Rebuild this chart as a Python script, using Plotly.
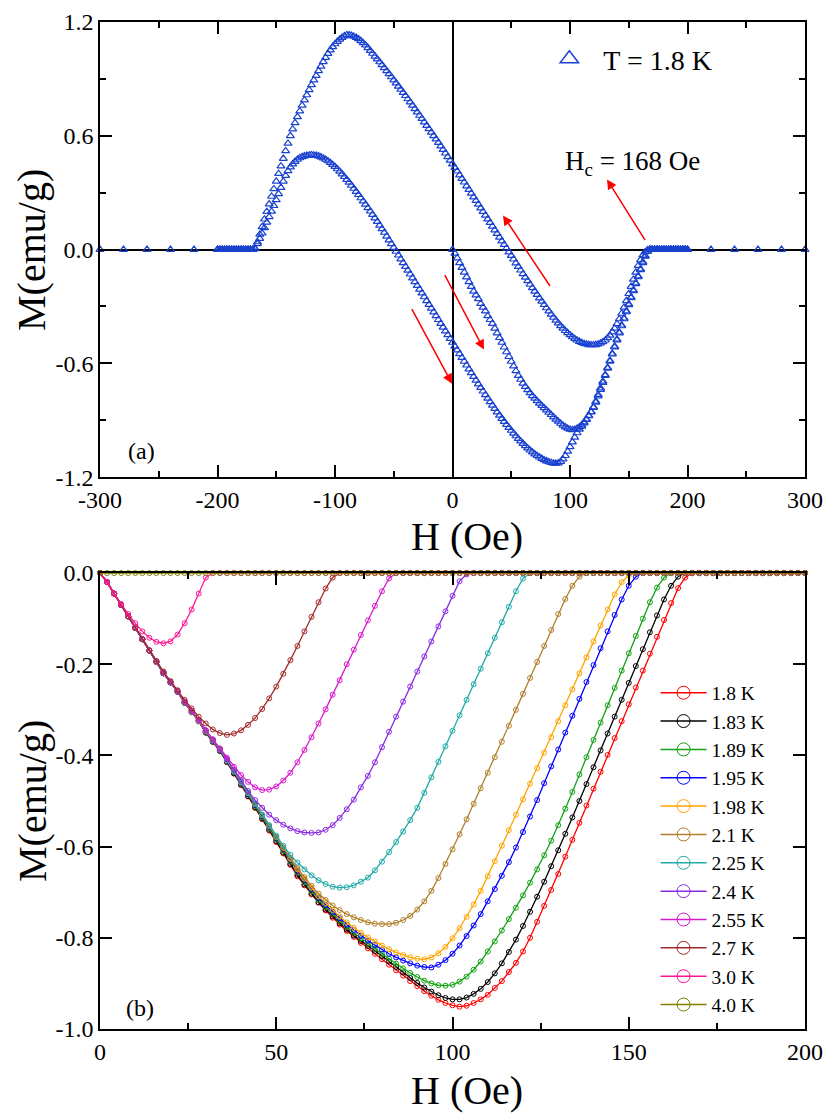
import plotly.graph_objects as go

# ---- panel (a): hysteresis loop at T = 1.8 K ----
H_top = [
    -200, -198, -196, -194, -192, -190, -188, -186, -184, -182, -180, -178, -176, -174, -172, -170, -168, -166, -164, -162,
    -160, -158, -156, -154, -152, -150, -148, -146, -144, -142, -140, -138, -136, -134, -132, -130, -128, -126, -124, -122,
    -120, -118, -116, -114, -112, -110, -108, -106, -104, -102, -100, -98, -96, -94, -92, -90, -88, -86, -84, -82,
    -80, -78, -76, -74, -72, -70, -68, -66, -64, -62, -60, -58, -56, -54, -52, -50, -48, -46, -44, -42,
    -40, -38, -36, -34, -32, -30, -28, -26, -24, -22, -20, -18, -16, -14, -12, -10, -8, -6, -4, -2,
    0, 2, 4, 6, 8, 10, 12, 14, 16, 18, 20, 22, 24, 26, 28, 30, 32, 34, 36, 38,
    40, 42, 44, 46, 48, 50, 52, 54, 56, 58, 60, 62, 64, 66, 68, 70, 72, 74, 76, 78,
    80, 82, 84, 86, 88, 90, 92, 94, 96, 98, 100, 102, 104, 106, 108, 110, 112, 114, 116, 118,
    120, 122, 124, 126, 128, 130, 132, 134, 136, 138, 140, 142, 144, 146, 148, 150, 152, 154, 156, 158,
    160, 162, 164, 166, 168, 170, 172, 174, 176, 178, 180, 182, 184, 186, 188, 190, 192, 194, 196, 198,
    200]

# branch swept from +H down to -H
M_desc = [
    0, 0, 0, 0, 0, 0, 0, 0, 0, 0,
    0, 0, 0, 0, 0, 0, 0.005, 0.04, 0.08, 0.12,
    0.16, 0.2, 0.24, 0.28, 0.32, 0.36, 0.4, 0.44, 0.48, 0.52,
    0.56, 0.6, 0.635, 0.668, 0.7, 0.73, 0.76, 0.788, 0.815, 0.842,
    0.868, 0.893, 0.917, 0.942, 0.966, 0.99, 1.012, 1.033, 1.052, 1.069,
    1.084, 1.097, 1.108, 1.118, 1.126, 1.132, 1.131, 1.129, 1.124, 1.118,
    1.111, 1.101, 1.09, 1.078, 1.064, 1.049, 1.034, 1.019, 1.004, 0.989,
    0.974, 0.958, 0.942, 0.926, 0.91, 0.894, 0.878, 0.861, 0.844, 0.828,
    0.811, 0.794, 0.777, 0.76, 0.742, 0.725, 0.707, 0.69, 0.672, 0.654,
    0.636, 0.618, 0.6, 0.582, 0.564, 0.545, 0.527, 0.508, 0.489, 0.47,
    0.451, 0.432, 0.413, 0.393, 0.374, 0.355, 0.335, 0.316, 0.296, 0.277,
    0.258, 0.238, 0.219, 0.2, 0.18, 0.161, 0.142, 0.122, 0.103, 0.084,
    0.064, 0.045, 0.026, 0.007, -0.013, -0.032, -0.051, -0.071, -0.09, -0.109,
    -0.128, -0.147, -0.165, -0.184, -0.202, -0.22, -0.238, -0.256, -0.273, -0.291,
    -0.308, -0.325, -0.342, -0.358, -0.373, -0.388, -0.402, -0.415, -0.428, -0.439,
    -0.45, -0.461, -0.47, -0.478, -0.485, -0.491, -0.496, -0.499, -0.502, -0.503,
    -0.503, -0.502, -0.499, -0.494, -0.487, -0.478, -0.466, -0.452, -0.435, -0.415,
    -0.392, -0.366, -0.337, -0.305, -0.27, -0.233, -0.195, -0.157, -0.12, -0.085,
    -0.055, -0.03, -0.012, -0.002, 0, 0, 0, 0, 0, 0,
    0, 0, 0, 0, 0, 0, 0, 0, 0, 0,
    0]

# branch swept from -H up to +H
M_asc = [
    0, 0, 0, 0, 0, 0, 0, 0, 0, 0,
    0, 0, 0, 0, 0, 0, 0.003, 0.03, 0.058, 0.086,
    0.114, 0.143, 0.172, 0.201, 0.231, 0.262, 0.294, 0.327, 0.36, 0.39,
    0.415, 0.435, 0.451, 0.464, 0.475, 0.483, 0.489, 0.493, 0.496, 0.498,
    0.499, 0.498, 0.496, 0.493, 0.488, 0.482, 0.475, 0.467, 0.458, 0.448,
    0.437, 0.425, 0.412, 0.398, 0.384, 0.369, 0.354, 0.338, 0.322, 0.306,
    0.289, 0.272, 0.255, 0.238, 0.22, 0.202, 0.184, 0.166, 0.147, 0.128,
    0.109, 0.09, 0.07, 0.05, 0.03, 0.01, -0.01, -0.03, -0.05, -0.07,
    -0.09, -0.11, -0.13, -0.15, -0.17, -0.19, -0.21, -0.23, -0.25, -0.27,
    -0.29, -0.31, -0.33, -0.35, -0.37, -0.39, -0.41, -0.43, -0.45, -0.47,
    -0.49, -0.51, -0.53, -0.55, -0.57, -0.59, -0.61, -0.63, -0.65, -0.67,
    -0.69, -0.709, -0.728, -0.747, -0.766, -0.785, -0.803, -0.821, -0.839, -0.857,
    -0.874, -0.891, -0.907, -0.923, -0.939, -0.954, -0.969, -0.983, -0.997, -1.01,
    -1.023, -1.035, -1.047, -1.058, -1.068, -1.078, -1.087, -1.095, -1.102, -1.109,
    -1.115, -1.12, -1.124, -1.127, -1.128, -1.126, -1.118, -1.105, -1.087, -1.064,
    -1.04, -1.015, -0.99, -0.967, -0.948, -0.932, -0.915, -0.897, -0.877, -0.857,
    -0.834, -0.806, -0.773, -0.738, -0.702, -0.665, -0.627, -0.59, -0.552, -0.514,
    -0.477, -0.44, -0.403, -0.366, -0.329, -0.292, -0.255, -0.218, -0.181, -0.144,
    -0.107, -0.07, -0.036, -0.01, 0, 0, 0, 0, 0, 0,
    0, 0, 0, 0, 0, 0, 0, 0, 0, 0,
    0]

# coarse points outside +-200 Oe
H_out = [-300, -280, -260, -240, -220, 220, 240, 260, 280, 300]
M_out = [0, 0, 0, 0, 0, 0, 0, 0, 0, 0]

# ---- panel (b): virgin curves at several temperatures ----
H_b = [
    0, 2, 4, 6, 8, 10, 12, 14, 16, 18, 20, 22, 24, 26, 28, 30, 32, 34, 36, 38,
    40, 42, 44, 46, 48, 50, 52, 54, 56, 58, 60, 62, 64, 66, 68, 70, 72, 74, 76, 78,
    80, 82, 84, 86, 88, 90, 92, 94, 96, 98, 100, 102, 104, 106, 108, 110, 112, 114, 116, 118,
    120, 122, 124, 126, 128, 130, 132, 134, 136, 138, 140, 142, 144, 146, 148, 150, 152, 154, 156, 158,
    160, 162, 164, 166, 168, 170, 172, 174, 176, 178, 180, 182, 184, 186, 188, 190, 192, 194, 196, 198,
    200]

M_180 = [
    0, -0.02, -0.045, -0.07, -0.095, -0.12, -0.145, -0.17, -0.195, -0.22,
    -0.24, -0.26, -0.285, -0.305, -0.325, -0.35, -0.37, -0.39, -0.415, -0.44,
    -0.465, -0.49, -0.515, -0.54, -0.565, -0.59, -0.615, -0.64, -0.665, -0.685,
    -0.705, -0.723, -0.74, -0.756, -0.771, -0.785, -0.798, -0.811, -0.823, -0.835,
    -0.847, -0.859, -0.871, -0.883, -0.895, -0.906, -0.917, -0.927, -0.936, -0.943,
    -0.948, -0.951, -0.949, -0.943, -0.935, -0.925, -0.91, -0.895, -0.875, -0.855,
    -0.83, -0.8, -0.765, -0.73, -0.695, -0.66, -0.622, -0.585, -0.548, -0.51,
    -0.473, -0.436, -0.399, -0.362, -0.325, -0.288, -0.251, -0.214, -0.177, -0.14,
    -0.103, -0.066, -0.033, -0.01, 0, 0, 0, 0, 0, 0,
    0, 0, 0, 0, 0, 0, 0, 0, 0, 0,
    0]
M_183 = [
    0, -0.02, -0.045, -0.07, -0.095, -0.12, -0.145, -0.17, -0.195, -0.22,
    -0.24, -0.26, -0.285, -0.305, -0.325, -0.35, -0.37, -0.39, -0.414, -0.439,
    -0.464, -0.489, -0.514, -0.538, -0.563, -0.588, -0.613, -0.638, -0.662, -0.683,
    -0.703, -0.722, -0.738, -0.753, -0.768, -0.782, -0.795, -0.807, -0.818, -0.829,
    -0.84, -0.852, -0.864, -0.876, -0.888, -0.899, -0.909, -0.918, -0.926, -0.932,
    -0.935, -0.935, -0.931, -0.923, -0.912, -0.897, -0.878, -0.856, -0.831, -0.804,
    -0.774, -0.743, -0.71, -0.677, -0.643, -0.608, -0.572, -0.536, -0.5, -0.463,
    -0.426, -0.389, -0.352, -0.315, -0.278, -0.241, -0.204, -0.167, -0.13, -0.093,
    -0.058, -0.028, -0.008, 0, 0, 0, 0, 0, 0, 0,
    0, 0, 0, 0, 0, 0, 0, 0, 0, 0,
    0]
M_189 = [
    0, -0.02, -0.045, -0.07, -0.095, -0.12, -0.145, -0.17, -0.195, -0.22,
    -0.24, -0.26, -0.285, -0.305, -0.325, -0.349, -0.369, -0.389, -0.413, -0.437,
    -0.461, -0.486, -0.511, -0.535, -0.56, -0.584, -0.608, -0.632, -0.656, -0.677,
    -0.697, -0.716, -0.732, -0.747, -0.762, -0.776, -0.789, -0.801, -0.813, -0.824,
    -0.835, -0.846, -0.857, -0.867, -0.877, -0.886, -0.894, -0.9, -0.904, -0.905,
    -0.903, -0.896, -0.885, -0.87, -0.852, -0.83, -0.808, -0.784, -0.759, -0.734,
    -0.707, -0.679, -0.65, -0.619, -0.587, -0.553, -0.517, -0.48, -0.442, -0.404,
    -0.366, -0.328, -0.29, -0.252, -0.214, -0.176, -0.138, -0.1, -0.064, -0.032,
    -0.01, 0, 0, 0, 0, 0, 0, 0, 0, 0,
    0, 0, 0, 0, 0, 0, 0, 0, 0, 0,
    0]
M_195 = [
    0, -0.02, -0.045, -0.07, -0.095, -0.12, -0.145, -0.17, -0.195, -0.22,
    -0.24, -0.26, -0.284, -0.304, -0.324, -0.348, -0.368, -0.388, -0.412, -0.436,
    -0.46, -0.485, -0.509, -0.533, -0.557, -0.581, -0.605, -0.629, -0.652, -0.673,
    -0.693, -0.712, -0.728, -0.743, -0.757, -0.771, -0.783, -0.795, -0.806, -0.816,
    -0.826, -0.835, -0.843, -0.85, -0.856, -0.861, -0.864, -0.865, -0.859, -0.849,
    -0.835, -0.817, -0.796, -0.773, -0.748, -0.72, -0.693, -0.664, -0.634, -0.602,
    -0.568, -0.534, -0.498, -0.461, -0.424, -0.387, -0.35, -0.313, -0.276, -0.239,
    -0.202, -0.165, -0.128, -0.092, -0.058, -0.028, -0.008, 0, 0, 0,
    0, 0, 0, 0, 0, 0, 0, 0, 0, 0,
    0, 0, 0, 0, 0, 0, 0, 0, 0, 0,
    0]
M_198 = [
    0, -0.02, -0.045, -0.07, -0.095, -0.12, -0.145, -0.17, -0.195, -0.219,
    -0.239, -0.259, -0.284, -0.304, -0.324, -0.347, -0.367, -0.387, -0.411, -0.435,
    -0.459, -0.483, -0.507, -0.531, -0.555, -0.579, -0.603, -0.627, -0.65, -0.67,
    -0.69, -0.709, -0.724, -0.739, -0.753, -0.766, -0.778, -0.789, -0.799, -0.808,
    -0.817, -0.825, -0.832, -0.838, -0.843, -0.846, -0.847, -0.843, -0.834, -0.82,
    -0.801, -0.779, -0.754, -0.727, -0.697, -0.665, -0.632, -0.598, -0.564, -0.53,
    -0.496, -0.462, -0.428, -0.394, -0.36, -0.325, -0.29, -0.255, -0.22, -0.185,
    -0.15, -0.115, -0.08, -0.047, -0.02, -0.005, 0, 0, 0, 0,
    0, 0, 0, 0, 0, 0, 0, 0, 0, 0,
    0, 0, 0, 0, 0, 0, 0, 0, 0, 0,
    0]
M_210 = [
    0, -0.02, -0.045, -0.07, -0.095, -0.12, -0.145, -0.17, -0.194, -0.218,
    -0.239, -0.259, -0.283, -0.303, -0.323, -0.346, -0.366, -0.386, -0.41, -0.434,
    -0.458, -0.482, -0.507, -0.531, -0.555, -0.579, -0.602, -0.625, -0.647, -0.667,
    -0.686, -0.703, -0.717, -0.729, -0.739, -0.748, -0.755, -0.761, -0.766, -0.769,
    -0.77, -0.77, -0.767, -0.761, -0.752, -0.738, -0.72, -0.697, -0.669, -0.638,
    -0.606, -0.573, -0.54, -0.506, -0.472, -0.438, -0.404, -0.37, -0.335, -0.3,
    -0.265, -0.23, -0.195, -0.16, -0.125, -0.09, -0.057, -0.028, -0.008, 0,
    0, 0, 0, 0, 0, 0, 0, 0, 0, 0,
    0, 0, 0, 0, 0, 0, 0, 0, 0, 0,
    0, 0, 0, 0, 0, 0, 0, 0, 0, 0,
    0]
M_225 = [
    0, -0.02, -0.045, -0.07, -0.095, -0.12, -0.145, -0.17, -0.194, -0.218,
    -0.239, -0.259, -0.283, -0.303, -0.323, -0.346, -0.366, -0.386, -0.41, -0.434,
    -0.458, -0.482, -0.506, -0.53, -0.553, -0.576, -0.598, -0.618, -0.635, -0.65,
    -0.663, -0.674, -0.682, -0.688, -0.69, -0.689, -0.685, -0.677, -0.668, -0.652,
    -0.633, -0.612, -0.59, -0.567, -0.542, -0.515, -0.482, -0.448, -0.414, -0.38,
    -0.346, -0.312, -0.278, -0.244, -0.21, -0.176, -0.142, -0.108, -0.074, -0.04,
    -0.012, 0, 0, 0, 0, 0, 0, 0, 0, 0,
    0, 0, 0, 0, 0, 0, 0, 0, 0, 0,
    0, 0, 0, 0, 0, 0, 0, 0, 0, 0,
    0, 0, 0, 0, 0, 0, 0, 0, 0, 0,
    0]
M_240 = [
    0, -0.02, -0.045, -0.07, -0.095, -0.12, -0.145, -0.17, -0.194, -0.218,
    -0.239, -0.259, -0.282, -0.302, -0.322, -0.345, -0.365, -0.385, -0.408, -0.431,
    -0.455, -0.478, -0.498, -0.515, -0.53, -0.542, -0.552, -0.56, -0.566, -0.569,
    -0.57, -0.569, -0.563, -0.553, -0.537, -0.518, -0.497, -0.47, -0.445, -0.415,
    -0.382, -0.348, -0.315, -0.282, -0.249, -0.216, -0.183, -0.15, -0.117, -0.084,
    -0.05, -0.018, -0.003, 0, 0, 0, 0, 0, 0, 0,
    0, 0, 0, 0, 0, 0, 0, 0, 0, 0,
    0, 0, 0, 0, 0, 0, 0, 0, 0, 0,
    0, 0, 0, 0, 0, 0, 0, 0, 0, 0,
    0, 0, 0, 0, 0, 0, 0, 0, 0, 0,
    0]
M_255 = [
    0, -0.02, -0.045, -0.07, -0.095, -0.12, -0.145, -0.17, -0.194, -0.218,
    -0.239, -0.259, -0.282, -0.302, -0.322, -0.345, -0.365, -0.385, -0.405, -0.425,
    -0.443, -0.458, -0.47, -0.476, -0.475, -0.468, -0.455, -0.438, -0.415, -0.388,
    -0.36, -0.33, -0.299, -0.267, -0.235, -0.2, -0.168, -0.136, -0.104, -0.072,
    -0.04, -0.012, 0, 0, 0, 0, 0, 0, 0, 0,
    0, 0, 0, 0, 0, 0, 0, 0, 0, 0,
    0, 0, 0, 0, 0, 0, 0, 0, 0, 0,
    0, 0, 0, 0, 0, 0, 0, 0, 0, 0,
    0, 0, 0, 0, 0, 0, 0, 0, 0, 0,
    0, 0, 0, 0, 0, 0, 0, 0, 0, 0,
    0]
M_270 = [
    0, -0.02, -0.045, -0.07, -0.095, -0.12, -0.145, -0.17, -0.193, -0.216,
    -0.237, -0.257, -0.278, -0.297, -0.315, -0.33, -0.343, -0.351, -0.355, -0.352,
    -0.345, -0.333, -0.318, -0.298, -0.275, -0.249, -0.221, -0.191, -0.16, -0.128,
    -0.096, -0.064, -0.034, -0.01, 0, 0, 0, 0, 0, 0,
    0, 0, 0, 0, 0, 0, 0, 0, 0, 0,
    0, 0, 0, 0, 0, 0, 0, 0, 0, 0,
    0, 0, 0, 0, 0, 0, 0, 0, 0, 0,
    0, 0, 0, 0, 0, 0, 0, 0, 0, 0,
    0, 0, 0, 0, 0, 0, 0, 0, 0, 0,
    0, 0, 0, 0, 0, 0, 0, 0, 0, 0,
    0]
M_300 = [
    0, -0.02, -0.045, -0.068, -0.09, -0.11, -0.128, -0.142, -0.151, -0.154,
    -0.15, -0.135, -0.11, -0.08, -0.045, -0.01, 0, 0, 0, 0,
    0, 0, 0, 0, 0, 0, 0, 0, 0, 0,
    0, 0, 0, 0, 0, 0, 0, 0, 0, 0,
    0, 0, 0, 0, 0, 0, 0, 0, 0, 0,
    0, 0, 0, 0, 0, 0, 0, 0, 0, 0,
    0, 0, 0, 0, 0, 0, 0, 0, 0, 0,
    0, 0, 0, 0, 0, 0, 0, 0, 0, 0,
    0, 0, 0, 0, 0, 0, 0, 0, 0, 0,
    0, 0, 0, 0, 0, 0, 0, 0, 0, 0,
    0]
M_400 = [
    0, 0, 0, 0, 0, 0, 0, 0, 0, 0,
    0, 0, 0, 0, 0, 0, 0, 0, 0, 0,
    0, 0, 0, 0, 0, 0, 0, 0, 0, 0,
    0, 0, 0, 0, 0, 0, 0, 0, 0, 0,
    0, 0, 0, 0, 0, 0, 0, 0, 0, 0,
    0, 0, 0, 0, 0, 0, 0, 0, 0, 0,
    0, 0, 0, 0, 0, 0, 0, 0, 0, 0,
    0, 0, 0, 0, 0, 0, 0, 0, 0, 0,
    0, 0, 0, 0, 0, 0, 0, 0, 0, 0,
    0, 0, 0, 0, 0, 0, 0, 0, 0, 0,
    0]

temps = ['1.8 K', '1.83 K', '1.89 K', '1.95 K', '1.98 K', '2.1 K',
         '2.25 K', '2.4 K', '2.55 K', '2.7 K', '3.0 K', '4.0 K']
curves = [M_180, M_183, M_189, M_195, M_198, M_210,
          M_225, M_240, M_255, M_270, M_300, M_400]
colors = ['#ff0000', '#000000', '#14a314', '#0000ff', '#ffa500', '#b0802a',
          '#20aaa8', '#8a2be2', '#d81bcf', '#a52a2a', '#ff1493', '#808000']

# tick labels (hyphen minus like the original)
xa_vals = [-300, -200, -100, 0, 100, 200, 300]
xa_text = ['-300', '-200', '-100', '0', '100', '200', '300']
ya_vals = [-1.2, -0.6, 0.0, 0.6, 1.2]
ya_text = ['-1.2', '-0.6', '0.0', '0.6', '1.2']
xb_vals = [0, 50, 100, 150, 200]
xb_text = ['0', '50', '100', '150', '200']
yb_vals = [-1.0, -0.8, -0.6, -0.4, -0.2, 0.0]
yb_text = ['-1.0', '-0.8', '-0.6', '-0.4', '-0.2', '0.0']

FONT = 'Liberation Serif'
BLUE = '#1a42d0'
fig = go.Figure()

# panel (a)
fig.add_trace(go.Scatter(
    x=H_out + H_top + H_top + H_b,
    y=M_out + M_desc + M_asc + M_180,
    mode='markers', showlegend=False,
    xaxis='x', yaxis='y', cliponaxis=False,
    marker=dict(symbol='triangle-up-open', size=7, color=BLUE,
                line=dict(width=1.2, color=BLUE))))
# legend entry with a bigger symbol
fig.add_trace(go.Scatter(
    x=[None], y=[None], mode='markers', name='T = 1.8 K', legend='legend2',
    xaxis='x', yaxis='y',
    marker=dict(symbol='triangle-up-open', size=16, color=BLUE,
                line=dict(width=1.5, color=BLUE))))

# panel (b)
for name, M, c in zip(temps, curves, colors):
    fig.add_trace(go.Scatter(
        x=H_b, y=M, mode='lines+markers', showlegend=False,
        xaxis='x2', yaxis='y2', cliponaxis=False,
        line=dict(color=c, width=1.3),
        marker=dict(symbol='circle-open', size=5, color=c, line=dict(width=1, color=c))))
for name, c in zip(temps, colors):
    fig.add_trace(go.Scatter(
        x=[None], y=[None], mode='lines+markers', name=name, legend='legend',
        xaxis='x2', yaxis='y2',
        line=dict(color=c, width=1.5),
        marker=dict(symbol='circle-open', size=13, color=c, line=dict(width=1, color=c))))

axis_common = dict(showline=True, linecolor='black', linewidth=1.6, mirror='ticks',
                   ticks='inside', ticklen=12, tickwidth=1.5, tickcolor='black',
                   showgrid=False, automargin=False,
                   tickfont=dict(family=FONT, size=24, color='black'))

# page body adds an 8 px margin, so the figure is drawn shifted by 8 px
fig.update_layout(
    width=815, height=1110,
    margin=dict(l=92, r=18, t=14, b=89),
    paper_bgcolor='white', plot_bgcolor='white',
    font=dict(family=FONT, color='black'),
    xaxis=dict(axis_common, domain=[0, 1], anchor='y', range=[-300, 300],
               tickmode='array', tickvals=xa_vals, ticktext=xa_text,
               minor=dict(tickvals=[-250, -150, -50, 50, 150, 250], ticklen=6,
                          tickwidth=1.5, tickcolor='black', ticks='inside'),
               zeroline=True, zerolinecolor='black', zerolinewidth=1.5),
    yaxis=dict(axis_common, domain=[0.548, 1], anchor='x', range=[-1.2, 1.2],
               tickmode='array', tickvals=ya_vals, ticktext=ya_text,
               minor=dict(tickvals=[-0.9, -0.3, 0.3, 0.9], ticklen=6,
                          tickwidth=1.5, tickcolor='black', ticks='inside'),
               zeroline=True, zerolinecolor='black', zerolinewidth=1.5),
    xaxis2=dict(axis_common, domain=[0, 1], anchor='y2', range=[0, 200],
                tickmode='array', tickvals=xb_vals, ticktext=xb_text,
                minor=dict(tickvals=[25, 75, 125, 175], ticklen=6,
                           tickwidth=1.5, tickcolor='black', ticks='inside'),
                zeroline=False),
    yaxis2=dict(axis_common, domain=[0, 0.4528], anchor='x2', range=[-1.0, 0.0],
                tickmode='array', tickvals=yb_vals, ticktext=yb_text,
                zeroline=False),
    legend=dict(x=0.788, y=0.353, xanchor='left', yanchor='top',
                bgcolor='rgba(0,0,0,0)', font=dict(family=FONT, size=19.5),
                itemsizing='trace', itemwidth=46, tracegroupgap=0),
    legend2=dict(x=0.6175, y=0.988, xanchor='left', yanchor='top',
                 bgcolor='rgba(0,0,0,0)', font=dict(family=FONT, size=28),
                 itemsizing='trace', itemwidth=58),
)

annotations = [
    dict(text='H (Oe)', xref='paper', yref='paper', x=0.5206, y=0.4886,
         xanchor='center', yanchor='middle', showarrow=False,
         font=dict(family=FONT, size=40)),
    dict(text='H (Oe)', xref='paper', yref='paper', x=0.5206, y=-0.0606,
         xanchor='center', yanchor='middle', showarrow=False,
         font=dict(family=FONT, size=40)),
    dict(text='M(emu/g)', xref='paper', yref='paper', x=-0.0965, y=0.7736,
         xanchor='center', yanchor='middle', textangle=-90, showarrow=False,
         font=dict(family=FONT, size=40)),
    dict(text='M(emu/g)', xref='paper', yref='paper', x=-0.0965, y=0.2264,
         xanchor='center', yanchor='middle', textangle=-90, showarrow=False,
         font=dict(family=FONT, size=40)),
    dict(text='(a)', xref='x', yref='y', x=-265, y=-1.06, showarrow=False,
         font=dict(family=FONT, size=24)),
    dict(text='(b)', xref='x2', yref='y2', x=11.3, y=-0.954, showarrow=False,
         font=dict(family=FONT, size=24)),
    dict(text='H<sub>c</sub> = 168 Oe', xref='x', yref='y', x=152.8, y=0.454,
         showarrow=False, font=dict(family=FONT, size=27)),
]
# red sweep-direction arrows: (head H, head M, tail H, tail M)
arrows = [(-0.4, -0.707, -35.3, -0.306), (26.8, -0.527, -7.2, -0.127),
          (43, 0.18, 83.8, -0.20), (131.5, 0.37, 164.7, 0.042)]
for hx, hy, tx, ty in arrows:
    annotations.append(dict(x=hx, y=hy, ax=tx, ay=ty, xref='x', yref='y',
                            axref='x', ayref='y', text='', showarrow=True,
                            arrowhead=2, arrowsize=1.3, arrowwidth=1.5,
                            arrowcolor='#ff0000'))
fig.update_layout(annotations=annotations)

fig.write_html("out.html")
